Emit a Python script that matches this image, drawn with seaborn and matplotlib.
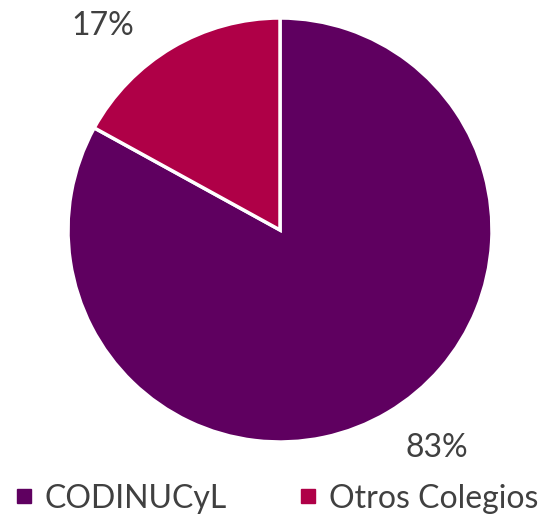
import matplotlib
matplotlib.use("Agg")
import matplotlib.pyplot as plt
from matplotlib.lines import Line2D
import seaborn as sns

categories = ["CODINUCyL", "Otros Colegios"]
values = [83, 17]
labels = ["83%", "17%"]
colors = ["#5F0060", "#AF0047"]

sns.set_theme(style="white")
plt.rcParams['font.family'] = ['Lato', 'DejaVu Sans']

fig = plt.figure(figsize=(5.51, 5.24), dpi=100)
W, H = 551, 524
cx, cy, r = 280, 230, 212
ax = fig.add_axes([(cx - r) / W, (H - cy - r) / H, 2 * r / W, 2 * r / H])
wedges, _ = ax.pie(values, colors=colors, startangle=90, counterclock=False,
                   radius=1.0, wedgeprops=dict(edgecolor="white", linewidth=2.5))
ax.set_xlim(-1, 1)
ax.set_ylim(-1, 1)
ax.set_aspect("equal")
ax.axis("off")

label_pos = [(0.74, -1.03), (-0.835, 0.96)]
for txt, (x, y) in zip(labels, label_pos):
    ax.text(x, y, txt, ha="center", va="center", fontsize=23, color="#404040",
            clip_on=False)

handles = [Line2D([0], [0], marker="s", linestyle="none", markersize=10,
                  markerfacecolor=c, markeredgecolor=c) for c in colors]
fig.legend(handles, categories, loc="lower center", bbox_to_anchor=(0.5, -0.035),
           ncol=2, frameon=False, fontsize=23, labelcolor="#404040",
           handletextpad=0.3, columnspacing=2.2, handlelength=0.7)

fig.savefig("out.png", dpi=100)
